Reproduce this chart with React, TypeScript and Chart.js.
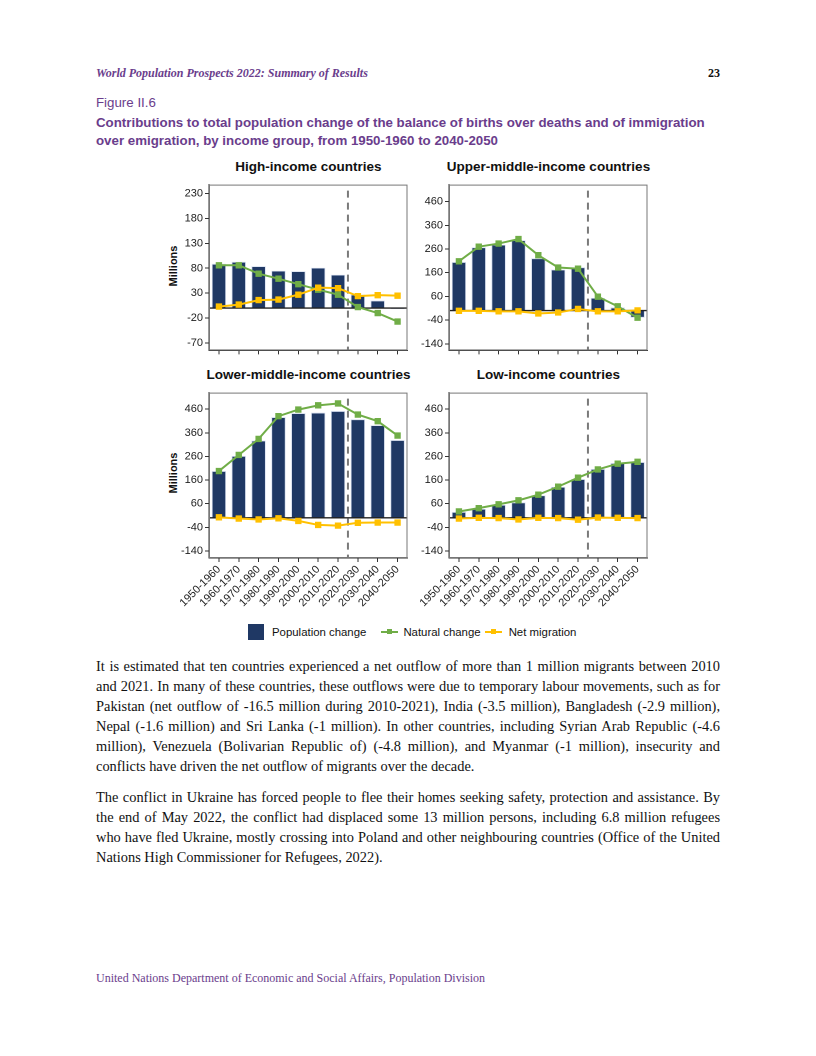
import React, { useEffect, useRef } from "react";
import { Chart, registerables } from "chart.js";
Chart.register(...registerables);

const periods = ["1950-1960", "1960-1970", "1970-1980", "1980-1990", "1990-2000", "2000-2010", "2010-2020", "2020-2030", "2030-2040", "2040-2050"];

const highPop = [89, 93, 84, 75, 74, 81, 67, 27, 15, -2];
const highNat = [86, 86, 69, 59, 48, 37, 27, 2, -10, -27];
const highMig = [3, 7, 16, 17, 27, 41, 40, 24, 26, 25];

const upperPop = [205, 267, 278, 297, 221, 173, 183, 54, 13, -30];
const upperNat = [208, 270, 283, 302, 234, 182, 177, 59, 18, -30];
const upperMig = [-1, -1, -3, -3, -12, -8, 7, -3, -3, 1];

const lowerPop = [198, 262, 327, 426, 443, 445, 452, 417, 392, 329];
const lowerNat = [198, 266, 334, 430, 458, 476, 484, 437, 409, 348];
const lowerMig = [2, -3, -7, -2, -13, -30, -33, -21, -20, -20];

const lowPop = [25, 38, 55, 65, 95, 131, 164, 207, 232, 236];
const lowNat = [27, 41, 57, 74, 98, 132, 170, 205, 229, 237];
const lowMig = [-3, 0, -1, -7, 0, -1, -8, 1, 0, -1];

const highTicks = [-70, -20, 30, 80, 130, 180, 230];
const otherTicks = [-140, -40, 60, 160, 260, 360, 460];

const NAVY = "#1f3864";
const GREEN = "#70ad47";
const YELLOW = "#ffc000";
const PURPLE = "#6a3d8c";
const SANS = "'Liberation Sans', Arial, sans-serif";
const SERIF = "'Liberation Serif', 'Times New Roman', serif";

type PanelProps = {
  title: string;
  plotLeft: number;
  plotTop: number;
  plotW: number;
  plotH: number;
  pop: number[];
  nat: number[];
  mig: number[];
  ticks: number[];
  min: number;
  max: number;
  showLabels: boolean;
  showYTitle: boolean;
};

const Y_AXIS_W = 50;
const PAD_TOP = 3;
const PAD_RIGHT = 4;

function Panel(p: PanelProps) {
  const ref = useRef<HTMLCanvasElement | null>(null);
  const xAxisH = p.showLabels ? 66 : 6;
  const cw = Y_AXIS_W + p.plotW + PAD_RIGHT;
  const ch = PAD_TOP + p.plotH + xAxisH;

  useEffect(() => {
    if (!ref.current) return;
    const overlay = {
      id: "overlay",
      afterDatasetDraw(chart: any, args: any) {
        if (args.index !== 0) return;
        const { ctx, chartArea } = chart;
        const x = chart.scales.x;
        const y = chart.scales.y;
        ctx.save();
        const y0 = y.getPixelForValue(0);
        ctx.strokeStyle = "#222";
        ctx.lineWidth = 1.4;
        ctx.beginPath();
        ctx.moveTo(chartArea.left, y0);
        ctx.lineTo(chartArea.right, y0);
        ctx.stroke();
        const xd = (x.getPixelForTick(6) + x.getPixelForTick(7)) / 2;
        ctx.strokeStyle = "#7a7a7a";
        ctx.lineWidth = 2;
        ctx.setLineDash([7, 5]);
        ctx.beginPath();
        ctx.moveTo(xd, chartArea.top + 6);
        ctx.lineTo(xd, chartArea.bottom);
        ctx.stroke();
        ctx.restore();
      },
      afterDraw(chart: any) {
        const { ctx, chartArea } = chart;
        ctx.save();
        ctx.strokeStyle = "#777";
        ctx.lineWidth = 1;
        ctx.strokeRect(chartArea.left + 0.5, chartArea.top + 0.5, chartArea.right - chartArea.left - 1, chartArea.bottom - chartArea.top - 1);
        ctx.restore();
      },
    };

    const chart = new Chart(ref.current, {
      type: "bar",
      data: {
        labels: periods,
        datasets: [
          {
            type: "bar",
            label: "Population change",
            data: p.pop,
            backgroundColor: NAVY,
            borderColor: "rgba(205,215,235,0.9)",
            borderWidth: 0.8,
            barPercentage: 0.72,
            categoryPercentage: 1,
            order: 2,
          },
          {
            type: "line",
            label: "Natural change",
            data: p.nat,
            borderColor: GREEN,
            backgroundColor: GREEN,
            borderWidth: 2,
            pointStyle: "rect",
            pointRadius: 4.5,
            pointBorderWidth: 0,
            pointBackgroundColor: GREEN,
            order: 1,
          },
          {
            type: "line",
            label: "Net migration",
            data: p.mig,
            borderColor: YELLOW,
            backgroundColor: YELLOW,
            borderWidth: 2,
            pointStyle: "rect",
            pointRadius: 4.5,
            pointBorderWidth: 0,
            pointBackgroundColor: YELLOW,
            order: 0,
          },
        ],
      } as any,
      options: {
        animation: false,
        responsive: false,
        devicePixelRatio: 2,
        layout: { padding: { top: PAD_TOP, right: PAD_RIGHT, left: 0, bottom: 0 } },
        plugins: { legend: { display: false }, tooltip: { enabled: false }, title: { display: false } },
        scales: {
          x: {
            offset: true,
            grid: { display: true, drawOnChartArea: false, drawTicks: true, tickLength: 4, offset: false, color: "#333" },
            border: { display: true, color: "#333", width: 1 },
            ticks: {
              display: p.showLabels,
              autoSkip: false,
              minRotation: 45,
              maxRotation: 45,
              padding: 1,
              color: "#222",
              font: { family: SANS, size: 11 },
            },
            afterFit(scale: any) {
              scale.height = xAxisH;
            },
          },
          y: {
            min: p.min,
            max: p.max,
            grid: { display: true, drawOnChartArea: false, drawTicks: true, tickLength: 4, color: "#333" },
            border: { display: true, color: "#333", width: 1 },
            ticks: {
              color: "#222",
              padding: 2,
              font: { family: SANS, size: 11 },
            },
            afterBuildTicks(scale: any) {
              scale.ticks = p.ticks.map((v) => ({ value: v }));
            },
            afterFit(scale: any) {
              scale.width = Y_AXIS_W;
            },
          },
        },
      } as any,
      plugins: [overlay],
    });
    return () => chart.destroy();
  }, []);

  const centerX = p.plotLeft + p.plotW / 2;
  return (
    <>
      <div
        style={{
          position: "absolute",
          left: centerX - 150,
          width: 300,
          top: p.plotTop - 21,
          height: 18,
          lineHeight: "18px",
          textAlign: "center",
          fontFamily: SANS,
          fontWeight: "bold",
          fontSize: 13.5,
          color: "#111",
          whiteSpace: "nowrap",
        }}
      >
        {p.title}
      </div>
      {p.showYTitle && (
        <div
          style={{
            position: "absolute",
            left: 173 - 40,
            top: p.plotTop + p.plotH / 2 - 7,
            width: 80,
            height: 14,
            lineHeight: "14px",
            textAlign: "center",
            transform: "rotate(-90deg)",
            fontFamily: SANS,
            fontWeight: "bold",
            fontSize: 11,
            color: "#111",
          }}
        >
          Millions
        </div>
      )}
      <canvas
        ref={ref}
        width={cw}
        height={ch}
        style={{ position: "absolute", left: p.plotLeft - Y_AXIS_W, top: p.plotTop - PAD_TOP, width: cw, height: ch }}
      />
    </>
  );
}

const para1 = [
  "It is estimated that ten countries experienced a net outflow of more than 1 million migrants between 2010",
  "and 2021. In many of these countries, these outflows were due to temporary labour movements, such as for",
  "Pakistan (net outflow of -16.5 million during 2010-2021), India (-3.5 million), Bangladesh (-2.9 million),",
  "Nepal (-1.6 million) and Sri Lanka (-1 million). In other countries, including Syrian Arab Republic (-4.6",
  "million), Venezuela (Bolivarian Republic of) (-4.8 million), and Myanmar (-1 million), insecurity and",
  "conflicts have driven the net outflow of migrants over the decade.",
];
const para2 = [
  "The conflict in Ukraine has forced people to flee their homes seeking safety, protection and assistance. By",
  "the end of May 2022, the conflict had displaced some 13 million persons, including 6.8 million refugees",
  "who have fled Ukraine, mostly crossing into Poland and other neighbouring countries (Office of the United",
  "Nations High Commissioner for Refugees, 2022).",
];

function TextLines({ lines, top }: { lines: string[]; top: number }) {
  return (
    <>
      {lines.map((l, i) => {
        const last = i === lines.length - 1;
        return (
          <div
            key={i}
            style={{
              position: "absolute",
              left: 96,
              width: 624,
              top: top + i * 20 - 10,
              height: 20,
              lineHeight: "20px",
              fontFamily: SERIF,
              fontSize: 14.4,
              color: "#111",
              textAlign: last ? "left" : "justify",
              textAlignLast: last ? "left" : "justify",
              whiteSpace: "nowrap",
            } as any}
          >
            {l}
          </div>
        );
      })}
    </>
  );
}

export default function App() {
  return (
    <div style={{ position: "absolute", left: 0, top: 0, width: 816, height: 1056, background: "#fff", overflow: "hidden" }}>
      <div style={{ position: "absolute", left: 96, top: 65, lineHeight: "16px", fontFamily: SERIF, fontStyle: "italic", fontWeight: "bold", fontSize: 12, color: PURPLE }}>
        World Population Prospects 2022: Summary of Results
      </div>
      <div style={{ position: "absolute", left: 660, width: 60, textAlign: "right", top: 65, lineHeight: "16px", fontFamily: SERIF, fontWeight: "bold", fontSize: 12, color: "#111" }}>
        23
      </div>
      <div style={{ position: "absolute", left: 96, top: 95, lineHeight: "16px", fontFamily: SANS, fontSize: 13.3, color: PURPLE }}>Figure II.6</div>
      <div style={{ position: "absolute", left: 96, top: 114, width: 660, lineHeight: "18px", fontFamily: SANS, fontWeight: "bold", fontSize: 13.3, color: PURPLE, whiteSpace: "nowrap" }}>
        Contributions to total population change of the balance of births over deaths and of immigration
        <br />
        over emigration, by income group, from 1950-1960 to 2040-2050
      </div>

      <Panel title="High-income countries" plotLeft={209} plotTop={179} plotW={199} plotH={174} pop={highPop} nat={highNat} mig={highMig} ticks={highTicks} min={-85} max={248} showLabels={false} showYTitle={true} />
      <Panel title="Upper-middle-income countries" plotLeft={449} plotTop={179} plotW={199} plotH={174} pop={upperPop} nat={upperNat} mig={upperMig} ticks={otherTicks} min={-168} max={532} showLabels={false} showYTitle={false} />
      <Panel title="Lower-middle-income countries" plotLeft={209} plotTop={387} plotW={199} plotH={171} pop={lowerPop} nat={lowerNat} mig={lowerMig} ticks={otherTicks} min={-170} max={530} showLabels={true} showYTitle={true} />
      <Panel title="Low-income countries" plotLeft={449} plotTop={387} plotW={199} plotH={171} pop={lowPop} nat={lowNat} mig={lowMig} ticks={otherTicks} min={-170} max={530} showLabels={true} showYTitle={false} />

      <div style={{ position: "absolute", left: 248, top: 624, height: 16, display: "flex", alignItems: "center", fontFamily: SANS, fontSize: 11.4, color: "#111", whiteSpace: "nowrap" }}>
        <span style={{ display: "inline-block", width: 16, height: 16, background: NAVY, marginRight: 8 }} />
        <span style={{ marginRight: 15 }}>Population change</span>
        <span style={{ position: "relative", display: "inline-block", width: 17, height: 16, marginRight: 5 }}>
          <span style={{ position: "absolute", left: 0, top: 7, width: 17, height: 2, background: GREEN }} />
          <span style={{ position: "absolute", left: 6, top: 5, width: 5, height: 5, background: GREEN }} />
        </span>
        <span style={{ marginRight: 4 }}>Natural change</span>
        <span style={{ position: "relative", display: "inline-block", width: 17, height: 16, marginRight: 7 }}>
          <span style={{ position: "absolute", left: 0, top: 7, width: 17, height: 2, background: YELLOW }} />
          <span style={{ position: "absolute", left: 6, top: 5, width: 5, height: 5, background: YELLOW }} />
        </span>
        <span>Net migration</span>
      </div>

      <TextLines lines={para1} top={666} />
      <TextLines lines={para2} top={797} />

      <div style={{ position: "absolute", left: 96, top: 970, lineHeight: "16px", fontFamily: SERIF, fontSize: 12, color: PURPLE }}>
        United Nations Department of Economic and Social Affairs, Population Division
      </div>
    </div>
  );
}
